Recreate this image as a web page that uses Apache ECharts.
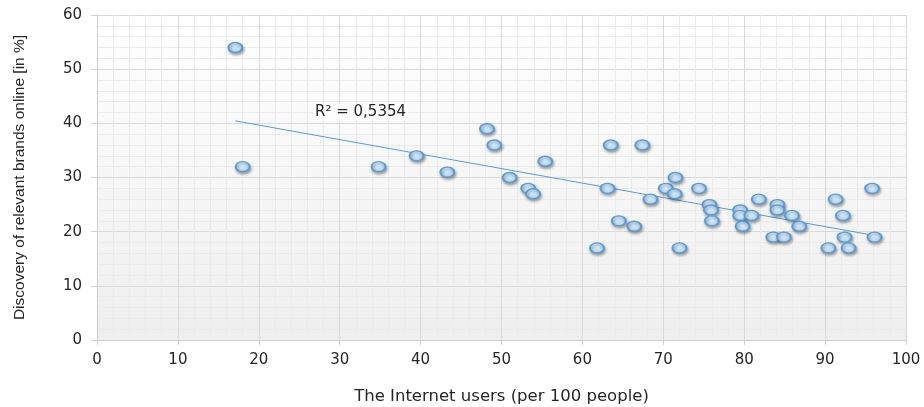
<!DOCTYPE html>
<html>
<head>
<meta charset="utf-8">
<script src="https://cdn.jsdelivr.net/npm/echarts@6/dist/echarts.min.js"></script>
<style>
  html, body { margin: 0; padding: 0; background: #fff; }
  #chart { width: 924px; height: 407px; }
</style>
</head>
<body>
<div id="chart"></div>
<script>
// Internet users per 100 people (x) vs. discovery of relevant brands online in % (y)
const internetUsers = [
  17.1, 18.0, 34.8, 39.5, 43.3, 48.2, 49.1, 55.4, 51.0, 53.3, 53.9,
  63.5, 67.4, 63.1, 61.8, 64.5, 66.4, 68.4, 70.3, 71.5, 71.4, 72.0,
  74.4, 75.7, 75.9, 76.0, 79.5, 79.5, 79.8, 80.9, 81.8, 84.1, 84.1,
  83.6, 84.9, 85.9, 86.8, 90.4, 91.3, 92.2, 92.4, 92.9, 95.8, 96.1
];
const brandDiscovery = [
  54, 32, 32, 34, 31, 39, 36, 33, 30, 28, 27,
  36, 36, 28, 17, 22, 21, 26, 28, 30, 27, 17,
  28, 25, 24, 22, 24, 23, 21, 23, 26, 25, 24,
  19, 19, 23, 21, 17, 26, 23, 19, 17, 28, 19
];
const rSquaredLabel = 'R² = 0,5354';
const xTicks = [0, 10, 20, 30, 40, 50, 60, 70, 80, 90, 100];
const yTicks = [0, 10, 20, 30, 40, 50, 60];

const points = internetUsers.map((x, i) => [x, brandDiscovery[i]]);

// least-squares linear trend over the observed points
const n = points.length;
const mx = internetUsers.reduce((a, b) => a + b, 0) / n;
const my = brandDiscovery.reduce((a, b) => a + b, 0) / n;
let sxy = 0, sxx = 0;
for (let i = 0; i < n; i++) {
  sxy += (internetUsers[i] - mx) * (brandDiscovery[i] - my);
  sxx += (internetUsers[i] - mx) ** 2;
}
const slope = sxy / sxx;
const intercept = my - slope * mx;
const xMin = Math.min(...internetUsers);
const xMax = Math.max(...internetUsers);
const trend = [[xMin, intercept + slope * xMin], [xMax, intercept + slope * xMax]];

const wideFont = '"DejaVu Sans", Verdana, sans-serif';
const narrowFont = '"Liberation Sans", Arial, sans-serif';
const textColor = '#262626';

const chart = echarts.init(document.getElementById('chart'));
chart.setOption({
  animation: false,
  grid: {
    left: 97, right: 18, top: 15, bottom: 67,
    outerBoundsMode: 'none',
    containLabel: false,
    show: true,
    borderWidth: 0,
    backgroundColor: new echarts.graphic.LinearGradient(0, 0, 0, 1, [
      { offset: 0, color: '#ffffff' },
      { offset: 1, color: '#eeeeee' }
    ])
  },
  xAxis: {
    type: 'value',
    min: xTicks[0], max: xTicks[xTicks.length - 1], interval: 10,
    name: 'The Internet users (per 100 people)',
    nameLocation: 'middle', nameGap: 48,
    nameTextStyle: { fontFamily: wideFont, fontSize: 16.5, color: textColor },
    axisLine: { show: true, lineStyle: { color: '#cfcfcf' } },
    axisTick: { show: true, length: 5, lineStyle: { color: '#cfcfcf' } },
    axisLabel: { fontFamily: wideFont, fontSize: 15, color: textColor, margin: 13 },
    splitLine: { show: true, lineStyle: { color: '#d9d9d9' } },
    minorTick: { show: false, splitNumber: 5 },
    minorSplitLine: { show: true, lineStyle: { color: '#ebebeb' } }
  },
  yAxis: {
    type: 'value',
    min: yTicks[0], max: yTicks[yTicks.length - 1], interval: 10,
    name: 'Discovery of relevant brands online [in %]',
    nameLocation: 'middle', nameGap: 69, nameRotate: 90,
    nameTextStyle: { fontFamily: narrowFont, fontSize: 15.5, color: textColor },
    axisLine: { show: true, lineStyle: { color: '#cfcfcf' } },
    axisTick: { show: true, length: 6, lineStyle: { color: '#cfcfcf' } },
    axisLabel: { fontFamily: wideFont, fontSize: 15, color: textColor, margin: 15 },
    splitLine: { show: true, lineStyle: { color: '#d9d9d9' } },
    minorTick: { show: false, splitNumber: 5 },
    minorSplitLine: { show: true, lineStyle: { color: '#ebebeb' } }
  },
  series: [
    {
      type: 'line',
      data: trend,
      symbol: 'none',
      silent: true,
      lineStyle: { color: '#5b9bd5', width: 1 },
      z: 2
    },
    {
      type: 'scatter',
      data: points,
      symbol: 'circle',
      symbolSize: [14, 10],
      itemStyle: {
        color: new echarts.graphic.RadialGradient(0.45, 0.35, 0.7, [
          { offset: 0, color: '#e2f1fe' },
          { offset: 1, color: '#a4cdf3' }
        ]),
        borderColor: '#5b9bd5',
        borderWidth: 1.6,
        shadowBlur: 3,
        shadowOffsetX: 1,
        shadowOffsetY: 2,
        shadowColor: 'rgba(0,0,0,0.35)',
        opacity: 1
      },
      z: 3
    }
  ],
  graphic: [
    {
      type: 'text',
      left: 313, top: 104,
      z: 100,
      style: {
        text: rSquaredLabel,
        font: '15px ' + wideFont,
        fill: textColor,
        backgroundColor: '#fdfdfd',
        padding: [1, 2, 1, 2]
      }
    }
  ]
});
</script>
</body>
</html>
